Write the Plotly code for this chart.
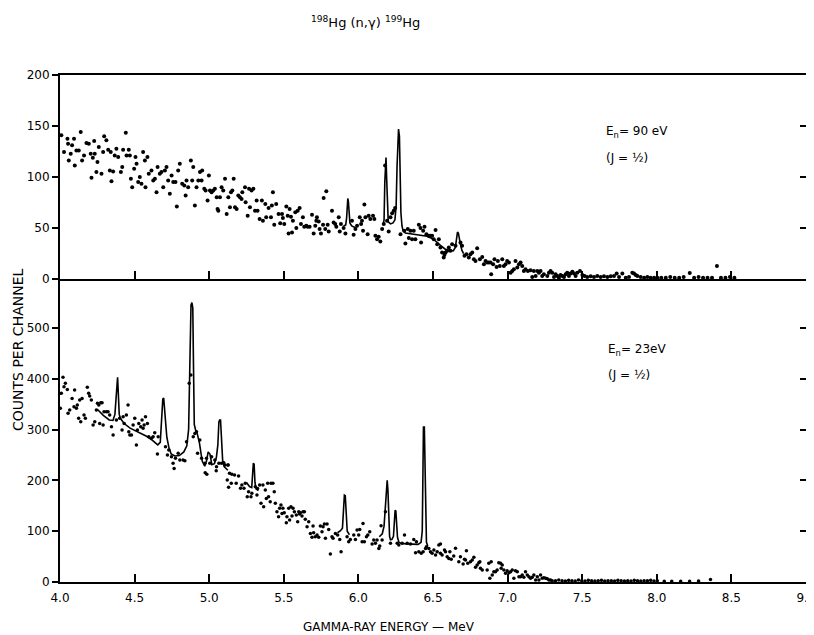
import plotly.graph_objects as go

# ---------------- data ----------------
title_text = "<sup>198</sup>Hg (n,γ) <sup>199</sup>Hg"
x_tick_vals = [4.0, 4.5, 5.0, 5.5, 6.0, 6.5, 7.0, 7.5, 8.0, 8.5, 9.0]
x_tick_text = ["4.0", "4.5", "5.0", "5.5", "6.0", "6.5", "7.0", "7.5", "8.0", "8.5", "9.0"]
top_y_ticks = [0, 50, 100, 150, 200]
bot_y_ticks = [0, 100, 200, 300, 400, 500]

# Top panel: E_n = 90 eV
top_energy = [
    4.009, 4.027, 4.050, 4.054, 4.059, 4.072, 4.081, 4.094, 4.099, 4.110, 4.126, 4.139, 4.148, 4.161,
    4.177, 4.193, 4.206, 4.211, 4.220, 4.229, 4.233, 4.244, 4.251, 4.260, 4.278, 4.289, 4.296, 4.311,
    4.323, 4.334, 4.340, 4.345, 4.356, 4.367, 4.378, 4.390, 4.408, 4.417, 4.423, 4.441, 4.446, 4.461,
    4.468, 4.475, 4.484, 4.497, 4.506, 4.513, 4.524, 4.535, 4.546, 4.557, 4.569, 4.573, 4.586, 4.595,
    4.613, 4.625, 4.636, 4.647, 4.654, 4.669, 4.680, 4.692, 4.703, 4.714, 4.725, 4.736, 4.748, 4.759,
    4.774, 4.783, 4.792, 4.803, 4.819, 4.833, 4.842, 4.848, 4.859, 4.877, 4.886, 4.893, 4.904, 4.915,
    4.927, 4.938, 4.949, 4.953, 4.967, 4.976, 4.989, 4.998, 5.005, 5.016, 5.027, 5.038, 5.050, 5.056,
    5.061, 5.072, 5.083, 5.094, 5.106, 5.117, 5.128, 5.139, 5.146, 5.155, 5.164, 5.173, 5.184, 5.195,
    5.206, 5.217, 5.222, 5.240, 5.244, 5.258, 5.267, 5.273, 5.284, 5.296, 5.307, 5.318,
    5.324, 5.338, 5.353, 5.360, 5.376, 5.382, 5.398, 5.414, 5.420, 5.427, 5.436, 5.449, 5.465, 5.476,
    5.488, 5.494, 5.503, 5.517, 5.526, 5.532, 5.539, 5.548, 5.555, 5.561, 5.577, 5.584, 5.593, 5.606,
    5.615, 5.628, 5.637, 5.651, 5.660, 5.673, 5.689, 5.700, 5.711, 5.718, 5.722, 5.734, 5.740, 5.749,
    5.763, 5.767, 5.778, 5.785, 5.794, 5.801, 5.823, 5.834, 5.845, 5.852, 5.868, 5.875, 5.883, 5.901,
    5.913, 5.957, 5.968, 5.980, 5.991, 6.009, 6.018, 6.024, 6.031, 6.040, 6.047, 6.062, 6.069, 6.080,
    6.098, 6.107, 6.114, 6.125, 6.136, 6.147, 6.159, 6.170, 6.179, 6.192, 6.203, 6.215, 6.226, 6.237,
    6.246, 6.282, 6.308, 6.315, 6.331, 6.338, 6.349, 6.360, 6.371, 6.382, 6.405, 6.416, 6.420, 6.434,
    6.443, 6.456, 6.472, 6.483, 6.494, 6.505, 6.517, 6.528, 6.539, 6.550, 6.561, 6.572, 6.577, 6.584,
    6.595,
    6.606, 6.617, 6.628, 6.651, 6.684, 6.695, 6.711, 6.724, 6.740, 6.751, 6.763, 6.774, 6.785, 6.796,
    6.814, 6.830, 6.841, 6.852, 6.863, 6.874, 6.886, 6.890, 6.903, 6.912, 6.926, 6.935, 6.948, 6.964,
    6.975, 6.986, 6.997, 7.009, 7.020, 7.031, 7.042, 7.053, 7.065, 7.076, 7.087, 7.098, 7.109, 7.120,
    7.136, 7.154, 7.165, 7.176, 7.188, 7.199, 7.210, 7.221, 7.232, 7.243, 7.266, 7.277, 7.288, 7.299,
    7.311, 7.322, 7.333, 7.344, 7.355, 7.367, 7.378, 7.389, 7.400, 7.411, 7.422, 7.434, 7.445, 7.456,
    7.467, 7.485, 7.501, 7.516, 7.534, 7.557, 7.579, 7.601, 7.624, 7.646, 7.669, 7.691, 7.713, 7.731,
    7.747, 7.769, 7.792, 7.814, 7.836, 7.847, 7.859, 7.870, 7.892, 7.915, 7.937, 7.959, 7.982, 8.004,
    8.03, 8.06, 8.09, 8.12, 8.15, 8.18, 8.221, 8.25, 8.28, 8.31, 8.34, 8.37, 8.403, 8.43, 8.46, 8.49, 8.52,
]
top_counts = [
    141.0, 124.5, 137.6, 132.7, 116.3, 122.9, 131.1, 137.6, 111.4, 126.1, 126.1, 144.2, 116.3, 121.2,
    133.4, 132.7, 122.9, 99.2, 118.9, 135.3, 122.9, 104.8, 114.7, 129.4, 103.2, 124.5, 139.9, 136.0,
    126.8, 106.4, 124.5, 95.9, 105.5, 121.2, 127.8, 119.6, 104.8, 109.7, 126.8, 143.5, 121.2, 126.8,
    121.2, 98.2, 90.0, 108.1, 119.6, 113.0, 95.0, 99.9, 93.3, 124.5, 116.3, 90.0, 119.6, 103.2,
    106.4, 96.6, 98.2, 85.1, 109.7, 103.2, 104.8, 90.0, 106.4, 109.7, 96.6, 83.5, 101.5, 95.0,
    95.0, 71.0, 106.4, 113.0, 93.3, 91.7, 81.8, 96.6, 90.0, 116.3, 96.6, 109.7, 72.0, 90.0,
    96.6, 104.8, 96.6, 106.4, 88.4, 86.7, 76.9, 101.5, 86.7, 85.1, 86.7, 88.4, 80.2, 68.7,
    67.0, 80.2, 90.0, 86.7, 98.2, 63.7, 80.2, 70.3, 85.1, 86.7, 98.2, 70.3, 68.7, 81.8,
    80.2, 78.5, 85.1, 90.0, 75.2, 62.1, 88.4, 70.3, 86.7, 88.4, 67.0, 76.9,
    67.0, 58.8, 76.9, 57.2, 73.6, 60.5, 69.7, 60.5, 72.0, 85.1, 53.2, 73.6, 63.7, 54.6,
    63.7, 59.8, 53.9, 71.0, 62.1, 44.7, 68.7, 61.1, 45.7, 57.2, 65.4, 50.0, 67.0, 69.7,
    53.9, 60.5, 51.3, 52.3, 51.3, 51.3, 63.1, 44.7, 52.3, 57.2, 60.5, 56.5, 49.0, 44.7,
    53.2, 79.5, 49.0, 86.1, 53.2, 46.7, 67.0, 55.5, 53.9, 51.3, 60.5, 46.7, 53.9, 50.0,
    44.7, 57.2, 43.4, 49.0, 52.3, 60.5, 53.9, 57.2, 47.3, 73.0, 60.5, 44.0, 62.1, 58.8,
    62.1, 58.8, 42.4, 39.1, 41.4, 36.8, 49.0, 53.9, 111.4, 57.2, 46.7, 60.5, 64.4, 67.0,
    69.7, 44.0, 47.3, 34.8, 49.0, 40.1, 47.3, 39.1, 47.3, 39.1, 53.2, 50.0, 35.8, 47.3,
    51.3, 44.0, 42.4, 42.4, 42.4, 39.1, 48.0, 34.2, 39.1, 30.9, 26.0, 21.1, 23.7, 26.0,
    27.6,
    30.9, 27.6, 34.2, 32.5, 35.8, 32.5, 22.7, 24.3, 21.0, 24.3, 26.0, 19.4, 17.7, 30.2,
    19.4, 21.7, 14.5, 17.7, 16.1, 16.1, 16.1, 4.6, 14.5, 19.4, 11.8, 17.7, 12.8, 19.4,
    12.8, 14.5, 17.7, 16.1, 6.2, 7.9, 9.5, 17.7, 11.2, 14.5, 16.1, 12.8, 7.9, 9.5,
    7.9, 8.5, 2.0, 7.9, 3.0, 7.9, 6.2, 7.9, 3.0, 4.6, 3.0, 6.2, 7.9, 6.2,
    2.0, 4.6, 3.0, 1.3, 4.0, 3.0, 2.0, 4.6, 6.2, 3.0, 5.3, 7.2, 5.3, 3.0,
    6.2, 7.9, 4.0, 3.0, 2.0, 2.6, 2.0, 3.0, 2.0, 2.6, 2.0, 2.6, 3.0, 5.3,
    2.0, 5.3, 1.3, 2.0, 6.2, 5.3, 4.0, 3.0, 2.0, 1.3, 2.0, 1.3, 1.3, 1.3,
    1.3, 1.3, 2.0, 1.3, 1.3, 2.0, 6.0, 1.3, 2.0, 1.3, 1.3, 1.3, 12.8, 1.3, 1.3, 2.0, 1.3,
]

# Top panel fitted curve (segments separated by None)
top_fit_energy = [
    5.900, 5.915, 5.921, 5.925, 5.929, 5.933, 5.937, 5.943, 5.955, 5.970, 5.985, None,
    6.166, 6.172, 6.177, 6.181, 6.185, 6.189, 6.194, 6.200, 6.215, 6.232, 6.245, 6.253, 6.259, 6.264,
    6.269, 6.275, 6.280, 6.285, 6.292, 6.300, 6.315, 6.340, 6.380, 6.420, 6.460, 6.490, 6.520, 6.550,
    6.580, 6.610, 6.635, 6.650, 6.658, 6.664, 6.670, 6.676, 6.684, 6.694, 6.705,
]
top_fit_counts = [
    52, 53, 60, 76, 79, 76, 62, 55, 52, 51, 50, None,
    53, 58, 95, 119, 119, 100, 65, 56, 54, 55, 58, 72, 110, 145,
    147, 140, 100, 65, 52, 47, 45, 44.5, 44, 43, 42, 40, 37, 33,
    29.5, 28, 27.5, 31, 40, 46, 45, 39, 34, 28, 25,
]

# Bottom panel: E_n = 23 eV
bot_energy = [
    4.002, 4.009, 4.020, 4.027, 4.036, 4.049, 4.054, 4.065, 4.081, 4.094, 4.098, 4.110, 4.116, 4.125,
    4.132, 4.139, 4.148, 4.161, 4.170, 4.183, 4.192, 4.199, 4.210, 4.222, 4.233, 4.244, 4.251, 4.260,
    4.266, 4.273, 4.282, 4.289, 4.295, 4.311, 4.322, 4.333, 4.345, 4.356, 4.378, 4.400, 4.416, 4.423,
    4.430, 4.445, 4.456, 4.461, 4.468, 4.479, 4.490, 4.501, 4.512, 4.519, 4.528, 4.541, 4.550, 4.557,
    4.564, 4.573, 4.586, 4.595, 4.613, 4.624, 4.635, 4.653, 4.658, 4.707, 4.720, 4.729, 4.747, 4.758,
    4.765, 4.774, 4.792, 4.803, 4.825, 4.837, 4.848, 4.866, 4.877, 4.893, 4.904, 4.915, 4.922, 4.937,
    4.949, 4.971, 4.982, 5.004, 5.016, 5.038, 5.049, 5.065, 5.083, 5.105, 5.127,
    4.973, 4.984, 5.047, 5.098, 5.125, 5.136, 5.152, 5.170, 5.121, 5.130, 5.148, 5.181, 5.197, 5.210,
    5.219, 5.233, 5.242, 5.255, 5.264,
    5.280, 5.286, 5.309, 5.320, 5.324, 5.338, 5.347, 5.360, 5.365, 5.376, 5.383, 5.392, 5.398, 5.409,
    5.414, 5.427, 5.436, 5.443, 5.454, 5.465, 5.472, 5.481, 5.488, 5.494, 5.503, 5.517, 5.521, 5.533,
    5.539, 5.548, 5.555, 5.562, 5.571, 5.584, 5.593, 5.600, 5.606, 5.611, 5.622, 5.629, 5.638, 5.644,
    5.656, 5.667, 5.678, 5.689, 5.696, 5.700, 5.711, 5.723, 5.734, 5.745, 5.756, 5.763, 5.772, 5.779,
    5.790, 5.801, 5.812, 5.823, 5.830, 5.846, 5.861, 5.875, 5.884, 5.924, 5.935, 5.946, 5.969, 5.980,
    5.991, 6.002, 6.009, 6.025, 6.031, 6.040, 6.054, 6.063, 6.076, 6.092, 6.103, 6.114, 6.125, 6.137,
    6.143, 6.152, 6.159, 6.181, 6.215, 6.260, 6.271, 6.293, 6.309, 6.327, 6.349, 6.371, 6.383, 6.389,
    6.405, 6.421, 6.434, 6.450, 6.456, 6.472, 6.483, 6.494, 6.506, 6.517, 6.528, 6.539, 6.550, 6.561,
    6.577, 6.584, 6.595, 6.606,
    6.550, 6.613, 6.622, 6.639, 6.651, 6.673, 6.684, 6.702, 6.711, 6.718, 6.724, 6.733, 6.751, 6.763,
    6.774, 6.785, 6.796, 6.807, 6.814, 6.818, 6.830, 6.863, 6.874, 6.881, 6.890, 6.897, 6.908, 6.919,
    6.930, 6.941, 6.953, 6.957, 6.964, 6.975, 6.986, 6.997, 7.009, 7.020, 7.031, 7.042, 7.053, 7.065,
    7.076, 7.087, 7.098, 7.109, 7.120, 7.132, 7.143, 7.154, 7.165, 7.176, 7.188, 7.199, 7.210, 7.221,
    7.232, 7.243, 7.255, 7.266, 7.277, 7.288, 7.299,
    7.321, 7.343, 7.365, 7.387, 7.409, 7.431, 7.453, 7.475, 7.497, 7.519, 7.541, 7.563, 7.585, 7.607,
    7.629, 7.651, 7.673, 7.695, 7.717, 7.739, 7.761, 7.783, 7.805, 7.827, 7.849, 7.871, 7.893, 7.915,
    7.937, 7.959, 7.981, 8.003, 8.05, 8.10, 8.16, 8.22, 8.28, 8.36,
]
bot_counts = [
    341.9, 371.4, 402.9, 384.5, 391.1, 379.2, 332.0, 338.6, 361.5, 345.1, 377.9, 341.9, 348.4, 322.2,
    358.3, 315.6, 361.5, 328.7, 322.2, 383.2, 371.4, 366.1, 358.3, 309.0, 315.6, 338.6, 351.7, 348.4,
    312.3, 353.0, 353.0, 309.0, 335.3, 335.3, 335.3, 328.7, 305.8, 289.4, 318.9, 322.2, 299.2, 325.4,
    312.3, 328.7, 348.4, 295.9, 289.4, 289.4, 309.0, 322.2, 269.7, 299.2, 312.3, 305.8, 318.9, 302.5,
    309.0, 325.4, 312.3, 286.1, 282.8, 286.1, 293.9, 251.9, 286.1, 266.4, 250.0, 259.8, 246.7, 233.6,
    223.7, 243.4, 253.3, 240.1, 240.1, 238.8, 276.2, 391.1, 407.5, 286.1, 292.6, 295.9, 253.3, 279.5,
    243.4, 233.6, 243.4, 233.6, 246.7, 240.1, 227.0, 233.6, 233.6, 230.3, 230.3,
    215.2, 211.9, 219.1, 234.9, 230.3, 213.9, 211.9, 210.6, 200.8, 186.3, 194.2, 194.2, 208.6, 184.4,
    190.9, 184.4, 194.2, 168.0, 177.8,
    167.9, 174.5, 187.6, 171.2, 184.3, 190.9, 154.8, 190.9, 148.2, 181.1, 164.6, 194.2, 167.9, 158.1,
    194.2, 194.2, 177.8, 154.8, 138.4, 128.6, 145.0, 151.5, 135.1, 145.0, 136.4, 116.7, 128.6, 145.0,
    122.0, 148.2, 129.9, 145.0, 138.4, 131.8, 118.7, 138.4, 133.8, 136.4, 129.9, 138.4, 138.4, 123.3,
    108.9, 118.7, 95.7, 87.9, 110.2, 97.1, 89.2, 92.5, 87.9, 110.2, 99.0, 108.9, 114.1, 85.9,
    114.1, 103.6, 55.1, 89.2, 85.9, 95.7, 92.5, 83.9, 59.7, 89.2, 79.3, 83.9, 92.5, 83.9,
    102.3, 92.5, 103.6, 79.3, 115.4, 79.3, 89.2, 92.5, 99.0, 74.8, 82.6, 76.1, 82.6, 66.2,
    70.8, 110.8, 82.6, 138.4, 76.1, 76.1, 72.8, 76.1, 92.5, 76.1, 74.8, 83.9, 57.7, 79.3,
    59.7, 56.4, 59.7, 66.2, 69.5, 66.2, 59.7, 56.4, 62.9, 53.1, 59.7, 72.8, 56.4, 53.1,
    62.9, 59.7, 49.8, 46.5,
    74.8, 59.7, 44.6, 51.2, 66.3, 40.0, 49.9, 35.4, 44.6, 43.3, 61.7, 36.7, 40.0, 43.3,
    48.6, 28.9, 33.5, 38.1, 40.0, 26.9, 23.6, 23.6, 36.7, 7.2, 40.0, 13.8, 20.3, 20.3,
    23.6, 38.1, 36.7, 26.9, 33.5, 23.6, 17.1, 22.3, 18.4, 20.3, 23.6, 7.2, 22.3, 20.3,
    10.5, 10.5, 13.8, 9.2, 20.3, 13.8, 10.5, 7.2, 9.2, 13.8, 3.9, 10.5, 3.9, 13.8,
    7.2, 8.5, 7.2, 6.6, 3.9, 3.9, 2.6,
    2.6, 3.9, 2.6, 2.0, 3.3, 2.6, 2.0, 3.9, 2.6, 2.0, 3.3, 2.6, 2.0, 2.6,
    3.3, 2.0, 2.6, 2.6, 2.0, 3.3, 2.6, 2.0, 2.6, 2.0, 3.3, 2.6, 2.0, 2.6,
    2.6, 3.3, 2.0, 2.6, 1.5, 1.5, 1.5, 1.5, 2.0, 5.0,
]

# Bottom panel fitted curve (segments separated by None)
bot_fit_energy = [
    4.250, 4.290, 4.330, 4.355, 4.368, 4.376, 4.381, 4.386, 4.391, 4.397, 4.405, 4.430, 4.470, 4.520,
    4.580, 4.620, 4.655, 4.672, 4.682, 4.689, 4.695, 4.701, 4.707, 4.716, 4.729, 4.745, 4.770, 4.800,
    4.830, 4.850, 4.862, 4.870, 4.878, 4.884, 4.890, 4.895, 4.900, 4.910, 4.920, 4.935, 4.953, 4.970,
    4.982, 4.993, 5.005, 5.018, 5.035, 5.048, 5.058, 5.065, 5.070, 5.076, 5.082, 5.090, 5.100, 5.125,
    None,
    5.250, 5.270, 5.285, 5.291, 5.296, 5.301, 5.307, 5.315, 5.330, None,
    5.860, 5.880, 5.893, 5.900, 5.906, 5.912, 5.918, 5.925, 5.940, None,
    6.140, 6.160, 6.172, 6.180, 6.187, 6.193, 6.198, 6.203, 6.209, 6.215, 6.225, 6.235, 6.241, 6.246,
    6.251, 6.256, 6.262, 6.272, 6.290, 6.320, 6.360, 6.400, 6.420, 6.428, 6.432, 6.436, 6.442, 6.447,
    6.451, 6.456, 6.465,
]
bot_fit_counts = [
    340, 328, 319, 318, 330, 375, 403, 403, 370, 330, 322, 312, 303, 296,
    287, 279, 270, 275, 320, 360, 362, 340, 305, 285, 266, 252, 248, 249,
    256, 268, 300, 420, 545, 550, 540, 420, 310, 298, 292, 273, 238, 228,
    238, 256, 252, 231, 233, 245, 270, 315, 319, 319, 275, 240, 227, 220,
    None,
    196, 188, 186, 210, 234, 232, 195, 183, 180, None,
    97, 101, 106, 140, 171, 170, 130, 100, 93, None,
    89, 95, 110, 150, 195, 200, 180, 130, 90, 83, 84, 90, 120, 141,
    140, 110, 88, 78, 76, 75, 74, 74, 78, 100, 200, 305, 305, 200,
    95, 78, 71,
]

# ---------------- figure ----------------
FONT = "DejaVu Sans"
split = 0.5976  # boundary between panels (fraction of plot height)

fig = go.Figure()
fig.add_trace(go.Scatter(x=bot_energy, y=bot_counts, mode="markers", xaxis="x", yaxis="y",
                         marker=dict(color="black", size=3.5), hoverinfo="skip"))
fig.add_trace(go.Scatter(x=bot_fit_energy, y=bot_fit_counts, mode="lines", xaxis="x", yaxis="y",
                         line=dict(color="black", width=1.6), connectgaps=False, hoverinfo="skip"))
fig.add_trace(go.Scatter(x=top_energy, y=top_counts, mode="markers", xaxis="x2", yaxis="y2",
                         marker=dict(color="black", size=4), hoverinfo="skip"))
fig.add_trace(go.Scatter(x=top_fit_energy, y=top_fit_counts, mode="lines", xaxis="x2", yaxis="y2",
                         line=dict(color="black", width=1.6), connectgaps=False, hoverinfo="skip"))
# empty traces so the right-hand tick axes are drawn
fig.add_trace(go.Scatter(x=[], y=[], xaxis="x", yaxis="y3", showlegend=False))
fig.add_trace(go.Scatter(x=[], y=[], xaxis="x2", yaxis="y4", showlegend=False))

axis_common = dict(showgrid=False, zeroline=False, showline=True, linecolor="black", linewidth=2,
                   tickcolor="black", tickfont=dict(family=FONT, size=12, color="black"))
axis_plain = {k: v for k, v in axis_common.items() if k != "tickfont"}

fig.update_layout(
    width=814, height=635,
    margin=dict(l=52, r=16, t=67, b=61, autoexpand=False),
    paper_bgcolor="white", plot_bgcolor="white",
    showlegend=False,
    xaxis=dict(domain=[0, 1], anchor="y", range=[4.0, 9.0], tickvals=x_tick_vals, ticktext=x_tick_text,
               ticks="inside", ticklen=8, tickwidth=1.5, mirror=False, ticklabelstandoff=4, **axis_common),
    xaxis2=dict(domain=[0, 1], anchor="y2", range=[4.0, 9.0], matches="x", tickvals=x_tick_vals,
                showticklabels=False, ticks="inside", ticklen=8, tickwidth=1.5, mirror=True, **axis_common),
    yaxis=dict(domain=[0, split], anchor="x", range=[0, 596.5], tickvals=bot_y_ticks,
               ticks="outside", ticklen=6, tickwidth=1.5, **axis_common),
    yaxis2=dict(domain=[split, 1], anchor="x2", range=[0, 200], tickvals=top_y_ticks,
                ticks="outside", ticklen=6, tickwidth=1.5, **axis_common),
    yaxis3=dict(overlaying="y", side="right", anchor="x", range=[0, 596.5], tickvals=bot_y_ticks[1:],
                showticklabels=False, ticks="inside", ticklen=6, tickwidth=1.5, **axis_plain),
    yaxis4=dict(overlaying="y2", side="right", anchor="x2", range=[0, 200], tickvals=top_y_ticks[1:-1],
                showticklabels=False, ticks="inside", ticklen=6, tickwidth=1.5, **axis_plain),
)

ann_font = dict(family=FONT, size=12, color="black")
fig.add_annotation(text=title_text, xref="paper", yref="paper", x=0.41, y=1.1045, xanchor="center",
                   yanchor="middle", showarrow=False, font=dict(family=FONT, size=13, color="black"))
fig.add_annotation(text="GAMMA-RAY ENERGY — MeV", xref="paper", yref="paper", x=0.441, y=-0.0888,
                   xanchor="center", yanchor="middle", showarrow=False, font=ann_font)
fig.add_annotation(text="COUNTS PER CHANNEL", xref="paper", yref="paper", x=-0.0563, y=0.4576,
                   xanchor="center", yanchor="middle", textangle=-90, showarrow=False,
                   font=dict(family=FONT, size=14, color="black"))
fig.add_annotation(text="E<sub>n</sub>= 90 eV", xref="x2", yref="y2", x=7.644, y=144,
                   xanchor="left", showarrow=False, font=ann_font)
fig.add_annotation(text="(J = ½)", xref="x2", yref="y2", x=7.644, y=119,
                   xanchor="left", showarrow=False, font=ann_font)
fig.add_annotation(text="E<sub>n</sub>= 23eV", xref="x", yref="y", x=7.658, y=457,
                   xanchor="left", showarrow=False, font=ann_font)
fig.add_annotation(text="(J = ½)", xref="x", yref="y", x=7.658, y=407,
                   xanchor="left", showarrow=False, font=ann_font)

fig.write_html("out.html")
